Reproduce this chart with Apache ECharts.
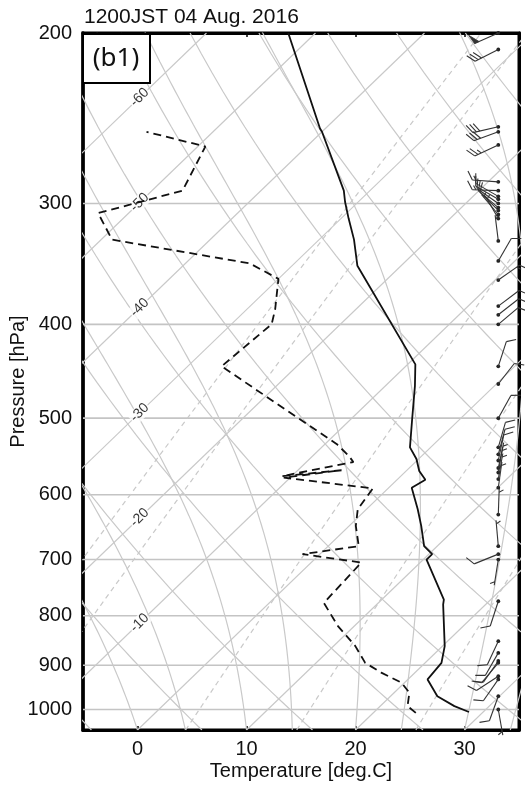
<!DOCTYPE html>
<html><head><meta charset="utf-8">
<script src="https://cdn.jsdelivr.net/npm/echarts@6/dist/echarts.min.js"></script>
<style>html,body{margin:0;padding:0;background:#fff}#c{width:525px;height:791px}</style>
</head><body><div id="c"></div>
<script>
// ---- axis ticks ----
const pressureTicks = [200, 300, 400, 500, 600, 700, 800, 900, 1000];
const gridPressures = [300, 400, 500, 600, 700, 800, 900, 1000];
const tempTicks = [0, 10, 20, 30];
// ---- sounding: temperature ----
const tempP = [1006, 992, 969, 931, 895, 860, 779, 770, 700, 691, 678, 646, 621, 590, 579, 567, 551, 536, 501, 463, 440, 348, 327, 311, 299, 291, 253, 251, 200];
const tempT = [28.7, 26.8, 24.3, 21.8, 21.5, 20.2, 16.1, 15.7, 10.3, 10.3, 8.8, 6.6, 4.7, 2.1, 2.6, 1.2, -0.2, -1.9, -4.4, -7.3, -9.3, -24.0, -26.8, -29.3, -31.2, -32.4, -40.0, -40.5, -52.5];
// ---- sounding: dew point ----
const dewP = [1008, 992, 961, 938, 916, 895, 860, 820, 776, 705, 691, 678, 646, 621, 591, 576, 566, 574, 555, 547, 532, 442, 406, 400, 386, 359, 346, 327, 307, 291, 262, 253];
const dewT = [23.9, 22.5, 21.4, 19.7, 16.9, 14.5, 12.0, 8.5, 5.0, 4.6, -1.6, 2.8, 0.6, -0.8, -1.4, -10.6, -6.0, -10.9, -5.7, -6.7, -8.9, -26.9, -26.4, -26.3, -27.4, -30.0, -34.1, -49.0, -52.8, -47.2, -49.3, -56.1];
// ---- winds (pressure hPa, direction deg, speed kt) ----
const windP   = [200, 208, 250, 253, 261, 285, 291, 295, 297, 300, 303, 305, 308, 311, 328, 344, 360, 383, 391, 400, 442, 461, 500, 536, 545, 553, 563, 569, 578, 590, 629, 678, 691, 700, 773, 850, 874, 891, 895, 924, 931, 969, 1000];
const windDir = [246, 243, 257, 250, 245, 274, 272, 300, 300, 305, 310, 315, 320, 330, 353, 30, 55, 53, 52, 50, 18, 38, 29, 16, 15, 12, 12, 10, 10, 8, 2, 355, 248, 189, 198, 205, 210, 215, 220, 237, 215, 200, 170];
const windSpd = [50, 30, 30, 30, 25, 15, 15, 10, 10, 10, 10, 10, 5, 5, 5, 10, 15, 10, 10, 10, 10, 10, 10, 10, 10, 10, 5, 5, 5, 5, 5, 5, 10, 5, 10, 10, 10, 10, 10, 10, 10, 10, 5];
// ---- background reference lines ----
const isotherms = [-110, -100, -90, -80, -70, -60, -50, -40, -30, -20, -10, 0, 10, 20, 30];
const isoLabels = [-60, -50, -40, -30, -20, -10];
const dryTheta = [265.2, 275.2, 285.2, 295.2, 305.2, 315.2, 325.2, 335.2, 345.2, 355.2, 365.2, 375.2];
const moistStart = [0, 4.4, 10, 14.2, 20, 24.2, 30, 34.2];
const mixRatios = [1, 1.5, 5, 10, 20];

const P_REF = 1050, SKEW = 40, P_TOP = 200;
const sx = (T, p) => T + SKEW * Math.log(P_REF / p);
const ly = p => Math.log(p);

function pLevels(step) { const a = []; for (let p = P_REF; p >= P_TOP - 5; p -= step) a.push(p); return a; }
function esat(Tc) { return 6.112 * Math.exp(17.67 * Tc / (Tc + 243.5)); }

const GREY = '#c9c9c9';
const series = [];
function bgLine(pts, dashed, z) {
  series.push({ type: 'line', data: pts, showSymbol: false, silent: true, animation: false, z: z || 1,
    lineStyle: { color: GREY, width: 1.2, type: dashed ? [5, 4] : 'solid' }, clip: true });
}
gridPressures.forEach(p => series.push({ type: 'line', data: [[-5, ly(p)], [35, ly(p)]], showSymbol: false, silent: true, animation: false, z: 1, lineStyle: { color: '#c4c4c4', width: 1.6 } }));
isotherms.forEach(T => bgLine([[sx(T, P_REF), ly(P_REF)], [sx(T, P_TOP), ly(P_TOP)]]));
dryTheta.forEach(th => bgLine(pLevels(10).map(p => [sx(th * Math.pow(p / 1000, 0.2857) - 273.15, p), ly(p)])));
function moist(T0) {
  const Rd = 287.04, cp = 1005.7, Lv = 2.501e6, eps = 0.622;
  const f = (T, p) => { const es = esat(T - 273.15); const rs = eps * es / (p - es);
    return (Rd * T + Lv * rs) / (cp + Lv * Lv * rs * eps / (Rd * T * T)); };
  let T = T0 + 273.15, lp = Math.log(P_REF); const h = -0.01, pts = [];
  while (lp >= Math.log(P_TOP - 5)) {
    const p = Math.exp(lp); pts.push([sx(T - 273.15, p), lp]);
    const pm = Math.exp(lp + h / 2), pe = Math.exp(lp + h);
    const k1 = f(T, p), k2 = f(T + h * k1 / 2, pm), k3 = f(T + h * k2 / 2, pm), k4 = f(T + h * k3, pe);
    T += h * (k1 + 2 * k2 + 2 * k3 + k4) / 6; lp += h;
  }
  return pts;
}
moistStart.forEach(t => bgLine(moist(t)));
mixRatios.forEach(w => bgLine(pLevels(10).map(p => { const e = (w / 1000) * p / (0.622 + w / 1000); const a = Math.log(e / 6.112); const Td = 243.5 * a / (17.67 - a); return [sx(Td, p), ly(p)]; }), true));

series.push({ type: 'scatter', silent: true, animation: false, z: 4, symbolSize: 0,
  data: isoLabels.map(T => { const p = P_REF * Math.exp(-(0.2 - T) / SKEW); return { value: [sx(T, p), ly(p)], name: String(T) }; }),
  label: { show: true, position: 'inside', rotate: 45, formatter: d => d.name, fontSize: 14, color: '#000', fontFamily: 'Liberation Sans', backgroundColor: '#fff', padding: [0, 1] } });

series.push({ type: 'line', data: tempP.map((p, i) => [sx(tempT[i], p), ly(p)]), showSymbol: false, animation: false, z: 5, lineStyle: { color: '#111', width: 1.8 }, clip: true });
series.push({ type: 'line', data: dewP.map((p, i) => [sx(dewT[i], p), ly(p)]), showSymbol: false, animation: false, z: 5, lineStyle: { color: '#111', width: 1.8, type: [8, 5] }, clip: true });

const BARB_X = 33.1;
series.push({ type: 'custom', animation: false, z: 6, silent: true, clip: false,
  data: windP.map((p, i) => [BARB_X, ly(p), windDir[i], windSpd[i]]),
  renderItem: (params, api) => {
    const base = api.coord([api.value(0), api.value(1)]);
    const d = api.value(2) * Math.PI / 180, spd = api.value(3);
    const u = [Math.sin(d), -Math.cos(d)], n = [-u[1], u[0]];
    const L = 26, BL = 10, sp = 3.6;
    const tip = [base[0] + u[0] * L, base[1] + u[1] * L];
    const st = { stroke: '#333', lineWidth: 1.1, fill: null };
    const ch = [
      { type: 'circle', shape: { cx: base[0], cy: base[1], r: 1.9 }, style: { fill: '#222' } },
      { type: 'line', shape: { x1: base[0], y1: base[1], x2: tip[0], y2: tip[1] }, style: st }
    ];
    let s = Math.round(spd / 5) * 5, pos = 0;
    const at = k => [tip[0] - u[0] * k, tip[1] - u[1] * k];
    while (s >= 50) { const a = at(pos), b = at(pos + 5);
      ch.push({ type: 'polygon', shape: { points: [a, [a[0] + n[0] * BL + u[0] * 2, a[1] + n[1] * BL + u[1] * 2], b] }, style: { fill: '#333', stroke: '#333', lineWidth: 0.8 } });
      pos += 6; s -= 50; }
    while (s >= 10) { const a = at(pos);
      ch.push({ type: 'line', shape: { x1: a[0], y1: a[1], x2: a[0] + (n[0] * 0.87 + u[0] * 0.5) * BL, y2: a[1] + (n[1] * 0.87 + u[1] * 0.5) * BL }, style: st });
      pos += sp; s -= 10; }
    if (s >= 5) { if (pos === 0) pos = sp; const a = at(pos);
      ch.push({ type: 'line', shape: { x1: a[0], y1: a[1], x2: a[0] + (n[0] * 0.87 + u[0] * 0.5) * BL * 0.5, y2: a[1] + (n[1] * 0.87 + u[1] * 0.5) * BL * 0.5 }, style: st }); }
    return { type: 'group', children: ch };
  } });

const FONT = 'Liberation Sans';
const chart = echarts.init(document.getElementById('c'));
chart.setOption({
  animation: false,
  backgroundColor: '#fff',
  grid: { left: 83, right: 6, top: 33, bottom: 61, containLabel: false, outerBoundsMode: 'none', show: true, borderColor: '#000', borderWidth: 3, backgroundColor: 'transparent' },
  xAxis: [
    { type: 'value', min: -5, max: 35, position: 'bottom', name: 'Temperature [deg.C]', nameLocation: 'middle', nameGap: 31, nameMoveOverlap: false,
      nameTextStyle: { fontSize: 20, color: '#111', fontFamily: FONT },
      axisLine: { show: true, onZero: false, lineStyle: { color: '#000', width: 3 } },
      axisTick: { show: true, inside: true, length: 4, lineStyle: { color: '#000', width: 1.5 }, customValues: tempTicks },
      axisLabel: { show: true, fontSize: 20, color: '#111', fontFamily: FONT, margin: 9, customValues: tempTicks },
      splitLine: { show: false } },
    { type: 'value', min: -5, max: 35, position: 'top',
      axisLine: { show: true, onZero: false, lineStyle: { color: '#000', width: 3 } },
      axisTick: { show: true, inside: true, length: 4, lineStyle: { color: '#000', width: 1.5 }, customValues: tempTicks },
      axisLabel: { show: false }, splitLine: { show: false } }
  ],
  yAxis: [
    { type: 'value', inverse: true, min: ly(200), max: ly(P_REF), position: 'left', name: 'Pressure [hPa]', nameLocation: 'middle', nameGap: 55, nameMoveOverlap: false,
      nameTextStyle: { fontSize: 20, color: '#111', fontFamily: FONT },
      axisLine: { show: true, onZero: false, lineStyle: { color: '#000', width: 3.5 } },
      axisTick: { show: false },
      axisLabel: { show: true, fontSize: 20, color: '#111', fontFamily: FONT, margin: 11, customValues: pressureTicks.map(ly), formatter: v => String(Math.round(Math.exp(v))) },
      splitLine: { show: false } },
    { type: 'value', inverse: true, min: ly(200), max: ly(P_REF), position: 'right',
      axisLine: { show: true, onZero: false, lineStyle: { color: '#000', width: 3 } }, axisTick: { show: false }, axisLabel: { show: false }, splitLine: { show: false } }
  ],
  graphic: [
    { type: 'text', left: 84, top: 7, style: { text: '1200JST 04 Aug. 2016', fontSize: 21, fill: '#111', fontFamily: FONT } },
    { type: 'rect', shape: { x: 83, y: 34, width: 67, height: 49 }, style: { fill: '#fff', stroke: '#000', lineWidth: 2 }, z: 100 },
    { type: 'text', x: 116, y: 59, style: { text: '(b1)', fontSize: 26, fill: '#111', fontFamily: 'Noto Sans', align: 'center', verticalAlign: 'middle' }, z: 101 }
  ],
  series: series
});
</script></body></html>
